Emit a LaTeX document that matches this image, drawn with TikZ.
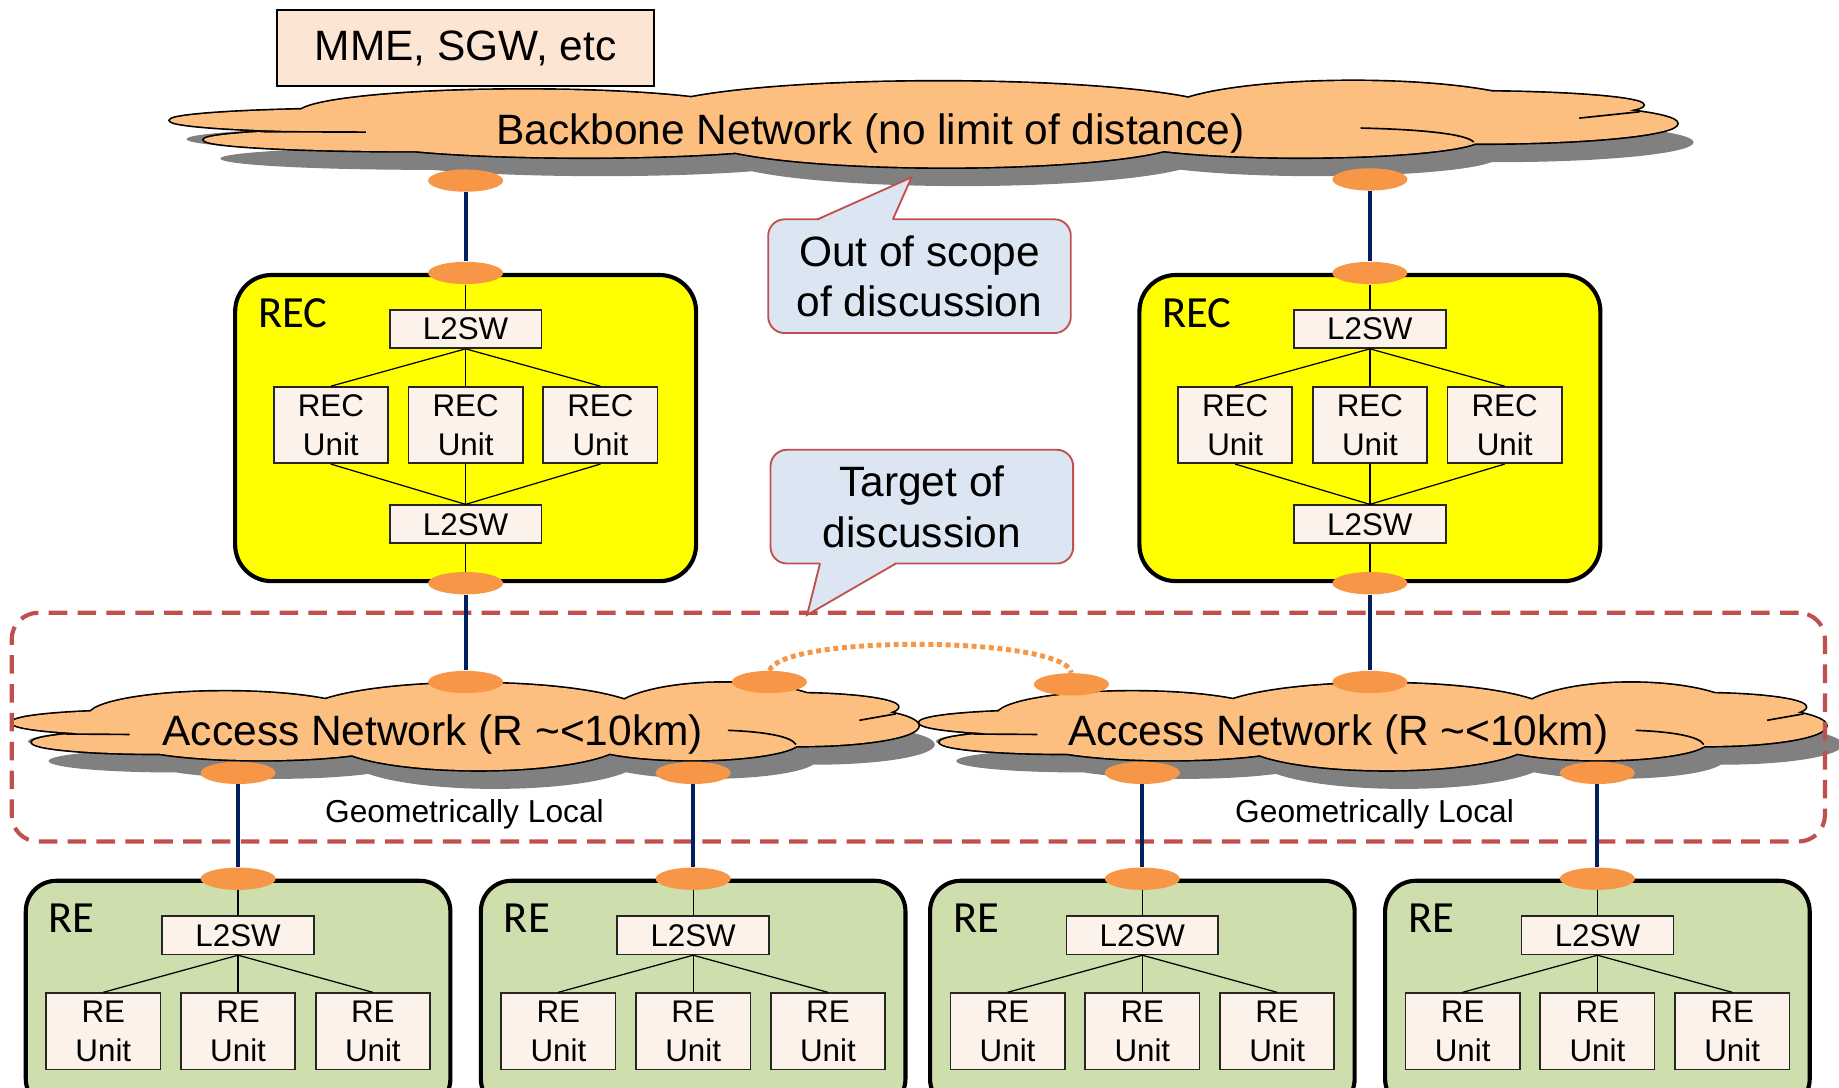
\documentclass[tikz,border=0pt]{standalone}
\usepackage{fontspec}
\setmainfont{Liberation Sans}
\newfontfamily\labelfont{Carlito}
\usetikzlibrary{positioning,shapes.geometric,calc}
\definecolor{FHnavy}{RGB}{0,32,96}
\definecolor{FHport}{RGB}{247,150,70}
\definecolor{FHcloud}{RGB}{252,191,127}
\definecolor{FHshadow}{RGB}{128,128,128}
\definecolor{FHyellow}{RGB}{255,255,0}
\definecolor{FHgreen}{RGB}{206,222,172}
\definecolor{FHinner}{RGB}{253,242,234}
\definecolor{FHpeach}{RGB}{253,229,212}
\definecolor{FHbubble}{RGB}{220,230,242}
\definecolor{FHred}{RGB}{192,80,77}
\tikzset{
  cloudtext/.style={inner sep=0pt,font=\fontsize{20.6}{24.5}\selectfont},
  port/.style={ellipse,fill=FHport,minimum width=1.28cm,minimum height=0.38cm,inner sep=0pt},
  recbox/.style={rounded corners=0.62cm,draw=black,line width=2pt,fill=FHyellow,
                 minimum width=7.86cm,minimum height=5.22cm},
  rebox/.style={rounded corners=0.52cm,draw=black,line width=2pt,fill=FHgreen,
                minimum width=7.24cm,minimum height=3.9cm},
  swbox/.style={draw=black!85,line width=0.8pt,fill=FHinner,minimum width=2.59cm,minimum height=0.65cm,
                inner sep=0pt,align=center,font=\fontsize{15.2}{18.8}\selectfont},
  unitbox/.style={swbox,minimum width=1.95cm,minimum height=1.3cm},
  boxlabel/.style={inner sep=0pt,font=\labelfont\fontsize{21.6}{26}\selectfont},
  mmebox/.style={draw=black,line width=1pt,fill=FHpeach,minimum width=6.44cm,minimum height=1.3cm,
                 font=\fontsize{20.6}{24.5}\selectfont},
  bubble/.style={rounded corners=0.28cm,draw=FHred,line width=0.9pt,fill=FHbubble,align=center,
                 minimum width=5.16cm,minimum height=1.94cm,font=\fontsize{20.6}{24.5}\selectfont},
  bubbleedge/.style={draw=FHred,line width=0.9pt},
  zone/.style={rounded corners=0.45cm,draw=FHred,line width=2pt,dash pattern=on 9pt off 5pt,
               minimum width=30.92cm,minimum height=3.9cm},
  trunk/.style={draw=FHnavy,line width=2pt},
  wire/.style={draw=black,line width=0.6pt},
  peerlink/.style={draw=FHport,line width=2.4pt,dash pattern=on 2.4pt off 1.8pt},
  geotext/.style={font=\fontsize{15.4}{18}\selectfont},
}
% lobes of a cloud, in units of its half width and half height
\newcommand{\cloudlobes}{%
  (-0.72,0.1) ellipse (0.28 and 0.26)
  (-0.68,-0.33) ellipse (0.275 and 0.25)
  (-0.53,0.25) ellipse (0.3 and 0.53)
  (0.02,0.25) ellipse (0.38 and 0.71)
  (0.57,0.25) ellipse (0.25 and 0.72)
  (0.72,0.44) ellipse (0.235 and 0.3)
  (0.74,0.03) ellipse (0.26 and 0.44)
  (0.5,-0.3) ellipse (0.24 and 0.42)
  (0.03,-0.3) ellipse (0.32 and 0.64)
  (-0.45,-0.3) ellipse (0.3 and 0.42)
  (0,0) ellipse (0.7 and 0.5)}
% inner strokes of a cloud
\newcommand{\cloudcurls}{%
  (-0.88,-0.15) -- (-0.74,-0.16)
  (0.58,-0.07) .. controls (0.66,-0.1) and (0.72,-0.2) .. (0.73,-0.38)
  (0.87,0.15) -- (0.95,0.29)}
\newcommand{\drawcloud}[3]{% centre, half width, half height
  \begin{scope}[shift={(#1)},x=#2cm,y=#3cm]
    \fill[FHshadow,shift={(0.28cm,-0.32cm)}] \cloudlobes;
    \draw[black,line width=1.6pt] \cloudlobes;
    \fill[FHcloud] \cloudlobes;
    \draw[black,line width=0.8pt] \cloudcurls;
  \end{scope}}
% one REC site: box, two switches, three units
\newcommand{\recblock}[2]{%
  \node[recbox] (rec#1) at (#2,11.24) {};
  \node[boxlabel,below right=0.43cm and 0.42cm of rec#1.north west] (rec#1lbl) {REC};
  \node[port] (rec#1in) at (rec#1.north) {};
  \node[port] (rec#1out) at (rec#1.south) {};
  \node[swbox] (rec#1sw1) at (#2,12.93) {L2SW};
  \node[swbox] (rec#1sw2) at (#2,9.6) {L2SW};
  \node[unitbox] (rec#1u2) at (#2,11.29) {REC\\Unit};
  \node[unitbox,left=0.32cm of rec#1u2] (rec#1u1) {REC\\Unit};
  \node[unitbox,right=0.32cm of rec#1u2] (rec#1u3) {REC\\Unit};
  \draw[wire] (rec#1in) -- (rec#1sw1);
  \draw[wire] (rec#1sw1.south) -- (rec#1u1.north);
  \draw[wire] (rec#1sw1.south) -- (rec#1u2.north);
  \draw[wire] (rec#1sw1.south) -- (rec#1u3.north);
  \draw[wire] (rec#1u1.south) -- (rec#1sw2.north);
  \draw[wire] (rec#1u2.south) -- (rec#1sw2.north);
  \draw[wire] (rec#1u3.south) -- (rec#1sw2.north);
  \draw[wire] (rec#1sw2) -- (rec#1out);
}
% one RE site: box, switch, three units
\newcommand{\reblock}[2]{%
  \node[rebox] (re#1) at (#2,1.57) {};
  \node[boxlabel,below right=0.43cm and 0.42cm of re#1.north west] (re#1lbl) {RE};
  \node[port] (re#1in) at (re#1.north) {};
  \node[swbox] (re#1sw) at (#2,2.59) {L2SW};
  \node[unitbox] (re#1u2) at (#2,0.954) {RE\\Unit};
  \node[unitbox,left=0.32cm of re#1u2] (re#1u1) {RE\\Unit};
  \node[unitbox,right=0.32cm of re#1u2] (re#1u3) {RE\\Unit};
  \draw[wire] (re#1in) -- (re#1sw);
  \draw[wire] (re#1sw.south) -- (re#1u1.north);
  \draw[wire] (re#1sw.south) -- (re#1u2.north);
  \draw[wire] (re#1sw.south) -- (re#1u3.north);
}

\begin{document}
\begin{tikzpicture}
  \useasboundingbox (0,0) rectangle (31.36,18.54);
  \clip (0,0) rectangle (31.36,18.54);
  % backbone
  \coordinate (backbone) at (15.75,16.41);
  \drawcloud{backbone}{12.85}{0.77}
  \node[cloudtext] (bbtext) at (14.84,16.26) {Backbone Network (no limit of distance)};
  \node[mmebox] (mme) at (7.94,17.72) {MME, SGW, etc};
  \node[port] (bbportL) at (7.94,15.46) {};
  \node[port] (bbportR) at (23.36,15.48) {};
  % access networks
  \coordinate (accA) at (7.93,6.14);
  \coordinate (accB) at (23.41,6.14);
  \drawcloud{accA}{7.73}{0.78}
  \drawcloud{accB}{7.73}{0.78}
  \node[cloudtext] (accAtext) at (7.38,6.02) {Access Network (R \textasciitilde{}<10km)};
  \node[cloudtext] (accBtext) at (22.82,6.02) {Access Network (R \textasciitilde{}<10km)};
  \node[zone] (local) at (15.66,6.14) {};
  \node[geotext] (geoA) at (7.92,4.66) {Geometrically Local};
  \node[geotext] (geoB) at (23.44,4.66) {Geometrically Local};
  \node[port] (accAup) at (7.94,6.91) {};
  \node[port] (accApeer) at (13.12,6.91) {};
  \node[port] (accBpeer) at (18.27,6.87) {};
  \node[port] (accBup) at (23.36,6.91) {};
  \node[port] (accAdn1) at (4.06,5.36) {};
  \node[port] (accAdn2) at (11.82,5.36) {};
  \node[port] (accBdn1) at (19.48,5.36) {};
  \node[port] (accBdn2) at (27.24,5.36) {};
  % sites
  \recblock{A}{7.94}
  \recblock{B}{23.36}
  \reblock{A}{4.06}
  \reblock{B}{11.82}
  \reblock{C}{19.48}
  \reblock{D}{27.24}
  % callouts
  \node[bubble] (outscope) at (15.68,13.83) {Out of scope\\of discussion};
  \coordinate (outtip) at ($(outscope.north west)+(2.46,0.7)$);
  \fill[FHbubble] ($(outscope.north west)+(0.85,-0.04)$) -- (outtip) -- ($(outscope.north west)+(2.14,-0.04)$) -- cycle;
  \draw[bubbleedge] ($(outscope.north west)+(0.85,-0.02)$) -- (outtip) -- ($(outscope.north west)+(2.14,-0.02)$);
  \node[bubble] (target) at (15.72,9.9) {Target of\\discussion};
  \coordinate (targettip) at ($(target.south west)+(0.64,-0.86)$);
  \fill[FHbubble] ($(target.south west)+(0.86,0.04)$) -- (targettip) -- ($(target.south west)+(2.16,0.04)$) -- cycle;
  \draw[bubbleedge] ($(target.south west)+(0.86,0.02)$) -- (targettip) -- ($(target.south west)+(2.16,0.02)$);
  % links
  \draw[trunk] (bbportL) -- (recAin);
  \draw[trunk] (bbportR) -- (recBin);
  \draw[trunk] (recAout) -- (accAup);
  \draw[trunk] (recBout) -- (accBup);
  \draw[trunk] (accAdn1) -- (reAin);
  \draw[trunk] (accAdn2) -- (reBin);
  \draw[trunk] (accBdn1) -- (reCin);
  \draw[trunk] (accBdn2) -- (reDin);
  \draw[peerlink] (accApeer.north) .. controls +(0.25,0.62) and +(-0.12,0.62) .. (accBpeer.north);
\end{tikzpicture}
\end{document}
